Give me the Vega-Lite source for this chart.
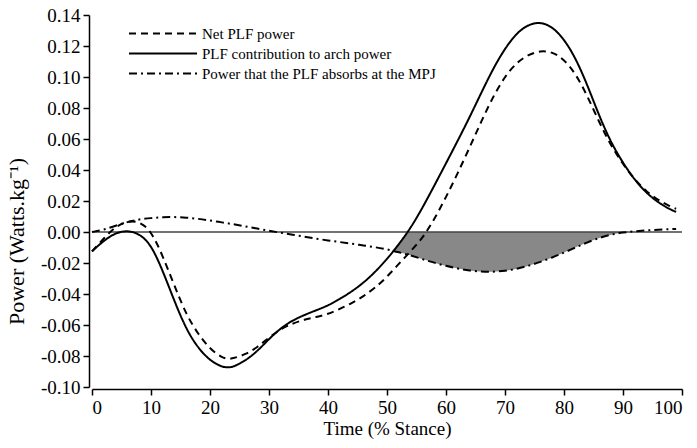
{
  "$schema": "https://vega.github.io/schema/vega-lite/v6.json",
  "width": 590,
  "height": 372,
  "autosize": {"type": "none"},
  "padding": {"left": 92, "top": 15, "right": 15, "bottom": 61},
  "background": "white",
  "config": {
    "view": {"stroke": null},
    "font": "Liberation Serif",
    "axis": {
      "grid": false,
      "domainColor": "black",
      "domainWidth": 1.5,
      "tickColor": "black",
      "tickWidth": 1.5,
      "tickSize": 6,
      "labelFont": "Liberation Serif",
      "labelFontSize": 19,
      "labelColor": "black",
      "labelOverlap": false,
      "titleFont": "Liberation Serif",
      "titleFontSize": 19,
      "titleFontWeight": "normal",
      "titleColor": "black"
    },
    "axisX": {
      "offset": 2, "labelPadding": 3, "titlePadding": 2
    },
    "axisY": {
      "labelExpr": "replace(format(datum.value, '.2f'), '−', '-')",
      "offset": 3, "labelPadding": 3, "titlePadding": 12,
      "titleFontSize": 22, "titleY": 226
    },
    "legend": {
      "labelFont": "Liberation Serif",
      "labelFontSize": 15,
      "labelColor": "black",
      "labelLimit": 500
    }
  },
  "datasets": {
    "lines": [
      {"x": 0, "s": "Net PLF power", "y": -0.0125},
      {"x": 2, "s": "Net PLF power", "y": -0.004},
      {"x": 4, "s": "Net PLF power", "y": 0.0035},
      {"x": 6, "s": "Net PLF power", "y": 0.0072},
      {"x": 8, "s": "Net PLF power", "y": 0.0068},
      {"x": 10, "s": "Net PLF power", "y": 0.001},
      {"x": 12, "s": "Net PLF power", "y": -0.0155},
      {"x": 14, "s": "Net PLF power", "y": -0.035},
      {"x": 16, "s": "Net PLF power", "y": -0.0535},
      {"x": 18, "s": "Net PLF power", "y": -0.066},
      {"x": 20, "s": "Net PLF power", "y": -0.0755},
      {"x": 22, "s": "Net PLF power", "y": -0.081},
      {"x": 23, "s": "Net PLF power", "y": -0.082},
      {"x": 24, "s": "Net PLF power", "y": -0.0815},
      {"x": 26, "s": "Net PLF power", "y": -0.079},
      {"x": 28, "s": "Net PLF power", "y": -0.0745},
      {"x": 30, "s": "Net PLF power", "y": -0.068},
      {"x": 32, "s": "Net PLF power", "y": -0.0625},
      {"x": 34, "s": "Net PLF power", "y": -0.059},
      {"x": 36, "s": "Net PLF power", "y": -0.0565},
      {"x": 38, "s": "Net PLF power", "y": -0.0548},
      {"x": 40, "s": "Net PLF power", "y": -0.053},
      {"x": 42, "s": "Net PLF power", "y": -0.0497},
      {"x": 44, "s": "Net PLF power", "y": -0.046},
      {"x": 46, "s": "Net PLF power", "y": -0.0415},
      {"x": 48, "s": "Net PLF power", "y": -0.036},
      {"x": 50, "s": "Net PLF power", "y": -0.029},
      {"x": 52, "s": "Net PLF power", "y": -0.0205},
      {"x": 54, "s": "Net PLF power", "y": -0.0125},
      {"x": 56, "s": "Net PLF power", "y": -0.004},
      {"x": 58, "s": "Net PLF power", "y": 0.008},
      {"x": 60, "s": "Net PLF power", "y": 0.0225},
      {"x": 62, "s": "Net PLF power", "y": 0.038},
      {"x": 64, "s": "Net PLF power", "y": 0.0545},
      {"x": 66, "s": "Net PLF power", "y": 0.0715},
      {"x": 68, "s": "Net PLF power", "y": 0.0875},
      {"x": 70, "s": "Net PLF power", "y": 0.1005},
      {"x": 72, "s": "Net PLF power", "y": 0.1095},
      {"x": 74, "s": "Net PLF power", "y": 0.1145},
      {"x": 76, "s": "Net PLF power", "y": 0.117},
      {"x": 78, "s": "Net PLF power", "y": 0.1162},
      {"x": 80, "s": "Net PLF power", "y": 0.1115},
      {"x": 82, "s": "Net PLF power", "y": 0.102},
      {"x": 84, "s": "Net PLF power", "y": 0.0875},
      {"x": 86, "s": "Net PLF power", "y": 0.0705},
      {"x": 88, "s": "Net PLF power", "y": 0.0555},
      {"x": 90, "s": "Net PLF power", "y": 0.0437},
      {"x": 92, "s": "Net PLF power", "y": 0.0337},
      {"x": 94, "s": "Net PLF power", "y": 0.026},
      {"x": 96, "s": "Net PLF power", "y": 0.0205},
      {"x": 98, "s": "Net PLF power", "y": 0.0165},
      {"x": 99, "s": "Net PLF power", "y": 0.015},
      {"x": 0, "s": "PLF contribution to arch power", "y": -0.0125},
      {"x": 2, "s": "PLF contribution to arch power", "y": -0.0055},
      {"x": 4, "s": "PLF contribution to arch power", "y": -0.0005},
      {"x": 6, "s": "PLF contribution to arch power", "y": 0.001},
      {"x": 8, "s": "PLF contribution to arch power", "y": -0.001},
      {"x": 10, "s": "PLF contribution to arch power", "y": -0.008},
      {"x": 12, "s": "PLF contribution to arch power", "y": -0.025},
      {"x": 14, "s": "PLF contribution to arch power", "y": -0.045},
      {"x": 16, "s": "PLF contribution to arch power", "y": -0.063},
      {"x": 18, "s": "PLF contribution to arch power", "y": -0.075},
      {"x": 20, "s": "PLF contribution to arch power", "y": -0.083},
      {"x": 22, "s": "PLF contribution to arch power", "y": -0.087},
      {"x": 23, "s": "PLF contribution to arch power", "y": -0.0875},
      {"x": 24, "s": "PLF contribution to arch power", "y": -0.087},
      {"x": 26, "s": "PLF contribution to arch power", "y": -0.083},
      {"x": 28, "s": "PLF contribution to arch power", "y": -0.077},
      {"x": 30, "s": "PLF contribution to arch power", "y": -0.069},
      {"x": 32, "s": "PLF contribution to arch power", "y": -0.062},
      {"x": 34, "s": "PLF contribution to arch power", "y": -0.057},
      {"x": 36, "s": "PLF contribution to arch power", "y": -0.0535},
      {"x": 38, "s": "PLF contribution to arch power", "y": -0.0505},
      {"x": 40, "s": "PLF contribution to arch power", "y": -0.0475},
      {"x": 42, "s": "PLF contribution to arch power", "y": -0.0432},
      {"x": 44, "s": "PLF contribution to arch power", "y": -0.0385},
      {"x": 46, "s": "PLF contribution to arch power", "y": -0.0328},
      {"x": 48, "s": "PLF contribution to arch power", "y": -0.0258},
      {"x": 50, "s": "PLF contribution to arch power", "y": -0.0175},
      {"x": 52, "s": "PLF contribution to arch power", "y": -0.008},
      {"x": 54, "s": "PLF contribution to arch power", "y": 0.0025},
      {"x": 56, "s": "PLF contribution to arch power", "y": 0.0155},
      {"x": 58, "s": "PLF contribution to arch power", "y": 0.0298},
      {"x": 60, "s": "PLF contribution to arch power", "y": 0.0443},
      {"x": 62, "s": "PLF contribution to arch power", "y": 0.059},
      {"x": 64, "s": "PLF contribution to arch power", "y": 0.074},
      {"x": 66, "s": "PLF contribution to arch power", "y": 0.09},
      {"x": 68, "s": "PLF contribution to arch power", "y": 0.1055},
      {"x": 70, "s": "PLF contribution to arch power", "y": 0.1185},
      {"x": 72, "s": "PLF contribution to arch power", "y": 0.1285},
      {"x": 74, "s": "PLF contribution to arch power", "y": 0.134},
      {"x": 76, "s": "PLF contribution to arch power", "y": 0.1355},
      {"x": 78, "s": "PLF contribution to arch power", "y": 0.1325},
      {"x": 80, "s": "PLF contribution to arch power", "y": 0.1245},
      {"x": 82, "s": "PLF contribution to arch power", "y": 0.112},
      {"x": 84, "s": "PLF contribution to arch power", "y": 0.0945},
      {"x": 86, "s": "PLF contribution to arch power", "y": 0.0745},
      {"x": 88, "s": "PLF contribution to arch power", "y": 0.0575},
      {"x": 90, "s": "PLF contribution to arch power", "y": 0.0445},
      {"x": 92, "s": "PLF contribution to arch power", "y": 0.0335},
      {"x": 94, "s": "PLF contribution to arch power", "y": 0.025},
      {"x": 96, "s": "PLF contribution to arch power", "y": 0.019},
      {"x": 98, "s": "PLF contribution to arch power", "y": 0.0145},
      {"x": 99, "s": "PLF contribution to arch power", "y": 0.013},
      {"x": 0, "s": "Power that the PLF absorbs at the MPJ", "y": 0.0},
      {"x": 2, "s": "Power that the PLF absorbs at the MPJ", "y": 0.0015},
      {"x": 4, "s": "Power that the PLF absorbs at the MPJ", "y": 0.004},
      {"x": 6, "s": "Power that the PLF absorbs at the MPJ", "y": 0.0065},
      {"x": 8, "s": "Power that the PLF absorbs at the MPJ", "y": 0.0082},
      {"x": 10, "s": "Power that the PLF absorbs at the MPJ", "y": 0.009},
      {"x": 12, "s": "Power that the PLF absorbs at the MPJ", "y": 0.0095},
      {"x": 14, "s": "Power that the PLF absorbs at the MPJ", "y": 0.0097},
      {"x": 16, "s": "Power that the PLF absorbs at the MPJ", "y": 0.0093},
      {"x": 18, "s": "Power that the PLF absorbs at the MPJ", "y": 0.0085},
      {"x": 20, "s": "Power that the PLF absorbs at the MPJ", "y": 0.0075},
      {"x": 22, "s": "Power that the PLF absorbs at the MPJ", "y": 0.0062},
      {"x": 24, "s": "Power that the PLF absorbs at the MPJ", "y": 0.005},
      {"x": 26, "s": "Power that the PLF absorbs at the MPJ", "y": 0.0036},
      {"x": 28, "s": "Power that the PLF absorbs at the MPJ", "y": 0.0022},
      {"x": 30, "s": "Power that the PLF absorbs at the MPJ", "y": 0.0008},
      {"x": 32, "s": "Power that the PLF absorbs at the MPJ", "y": -0.0005},
      {"x": 34, "s": "Power that the PLF absorbs at the MPJ", "y": -0.0017},
      {"x": 36, "s": "Power that the PLF absorbs at the MPJ", "y": -0.003},
      {"x": 38, "s": "Power that the PLF absorbs at the MPJ", "y": -0.0043},
      {"x": 40, "s": "Power that the PLF absorbs at the MPJ", "y": -0.0055},
      {"x": 42, "s": "Power that the PLF absorbs at the MPJ", "y": -0.0065},
      {"x": 44, "s": "Power that the PLF absorbs at the MPJ", "y": -0.0075},
      {"x": 46, "s": "Power that the PLF absorbs at the MPJ", "y": -0.0087},
      {"x": 48, "s": "Power that the PLF absorbs at the MPJ", "y": -0.0098},
      {"x": 50, "s": "Power that the PLF absorbs at the MPJ", "y": -0.0112},
      {"x": 52, "s": "Power that the PLF absorbs at the MPJ", "y": -0.013},
      {"x": 54, "s": "Power that the PLF absorbs at the MPJ", "y": -0.0151},
      {"x": 56, "s": "Power that the PLF absorbs at the MPJ", "y": -0.0175},
      {"x": 58, "s": "Power that the PLF absorbs at the MPJ", "y": -0.0198},
      {"x": 60, "s": "Power that the PLF absorbs at the MPJ", "y": -0.0219},
      {"x": 62, "s": "Power that the PLF absorbs at the MPJ", "y": -0.0236},
      {"x": 64, "s": "Power that the PLF absorbs at the MPJ", "y": -0.0249},
      {"x": 66, "s": "Power that the PLF absorbs at the MPJ", "y": -0.0256},
      {"x": 68, "s": "Power that the PLF absorbs at the MPJ", "y": -0.0257},
      {"x": 70, "s": "Power that the PLF absorbs at the MPJ", "y": -0.0251},
      {"x": 72, "s": "Power that the PLF absorbs at the MPJ", "y": -0.0238},
      {"x": 74, "s": "Power that the PLF absorbs at the MPJ", "y": -0.0218},
      {"x": 76, "s": "Power that the PLF absorbs at the MPJ", "y": -0.0193},
      {"x": 78, "s": "Power that the PLF absorbs at the MPJ", "y": -0.0165},
      {"x": 80, "s": "Power that the PLF absorbs at the MPJ", "y": -0.0133},
      {"x": 82, "s": "Power that the PLF absorbs at the MPJ", "y": -0.0099},
      {"x": 84, "s": "Power that the PLF absorbs at the MPJ", "y": -0.0066},
      {"x": 86, "s": "Power that the PLF absorbs at the MPJ", "y": -0.0037},
      {"x": 88, "s": "Power that the PLF absorbs at the MPJ", "y": -0.0016},
      {"x": 90, "s": "Power that the PLF absorbs at the MPJ", "y": -0.0003},
      {"x": 92, "s": "Power that the PLF absorbs at the MPJ", "y": 0.0005},
      {"x": 94, "s": "Power that the PLF absorbs at the MPJ", "y": 0.001},
      {"x": 96, "s": "Power that the PLF absorbs at the MPJ", "y": 0.0015},
      {"x": 98, "s": "Power that the PLF absorbs at the MPJ", "y": 0.0018},
      {"x": 99, "s": "Power that the PLF absorbs at the MPJ", "y": 0.002}
    ],
    "shade": [
      {"x": 51.15, "upper": -0.0122, "lower": -0.0122},
      {"x": 52, "upper": -0.008, "lower": -0.013},
      {"x": 53, "upper": -0.003, "lower": -0.014},
      {"x": 53.55, "upper": 0, "lower": -0.0146},
      {"x": 54, "upper": 0, "lower": -0.0151},
      {"x": 56, "upper": 0, "lower": -0.0175},
      {"x": 58, "upper": 0, "lower": -0.0198},
      {"x": 60, "upper": 0, "lower": -0.0219},
      {"x": 62, "upper": 0, "lower": -0.0236},
      {"x": 64, "upper": 0, "lower": -0.0249},
      {"x": 66, "upper": 0, "lower": -0.0256},
      {"x": 68, "upper": 0, "lower": -0.0257},
      {"x": 70, "upper": 0, "lower": -0.0251},
      {"x": 72, "upper": 0, "lower": -0.0238},
      {"x": 74, "upper": 0, "lower": -0.0218},
      {"x": 76, "upper": 0, "lower": -0.0193},
      {"x": 78, "upper": 0, "lower": -0.0165},
      {"x": 80, "upper": 0, "lower": -0.0133},
      {"x": 82, "upper": 0, "lower": -0.0099},
      {"x": 84, "upper": 0, "lower": -0.0066},
      {"x": 86, "upper": 0, "lower": -0.0037},
      {"x": 88, "upper": 0, "lower": -0.0016},
      {"x": 90, "upper": 0, "lower": -0.0003},
      {"x": 90.75, "upper": 0, "lower": 0}
    ]
  },
  "layer": [
    {
      "data": {"name": "shade"},
      "mark": {"type": "area", "color": "#888888", "interpolate": "basis"},
      "encoding": {
        "x": {"field": "x", "type": "quantitative", "scale": {"domain": [0, 100], "nice": false}, "title": "Time (% Stance)", "axis": {"values": [0, 10, 20, 30, 40, 50, 60, 70, 80, 90, 100]}},
        "y": {"field": "upper", "type": "quantitative", "scale": {"domain": [-0.1, 0.14], "nice": false, "zero": false}, "title": "Power (Watts.kg⁻¹)"},
        "y2": {"field": "lower"}
      }
    },
    {
      "data": {"values": [{}]},
      "mark": {"type": "rule", "color": "#444444", "strokeWidth": 1.3},
      "encoding": {"y": {"datum": 0, "type": "quantitative", "title": "Power (Watts.kg⁻¹)"}}
    },
    {
      "data": {"name": "lines"},
      "mark": {"type": "line", "color": "black", "strokeWidth": 2, "interpolate": "basis"},
      "encoding": {
        "x": {"field": "x", "type": "quantitative", "title": "Time (% Stance)", "axis": {"values": [0, 10, 20, 30, 40, 50, 60, 70, 80, 90, 100]}},
        "y": {"field": "y", "type": "quantitative", "title": "Power (Watts.kg⁻¹)"},
        "strokeDash": {
          "field": "s", "type": "nominal",
          "scale": {
            "domain": ["Net PLF power", "PLF contribution to arch power", "Power that the PLF absorbs at the MPJ"],
            "range": [[7, 5], [1, 0], [8, 4, 2, 4]]
          },
          "legend": {
            "title": null,
            "orient": "none",
            "legendX": 36,
            "legendY": 9,
            "symbolType": "M-1,0H7",
            "symbolSize": 289,
            "symbolStrokeWidth": 2,
            "symbolStrokeColor": "black",
            "rowPadding": 2,
            "labelOffset": 55
          }
        }
      }
    }
  ]
}
